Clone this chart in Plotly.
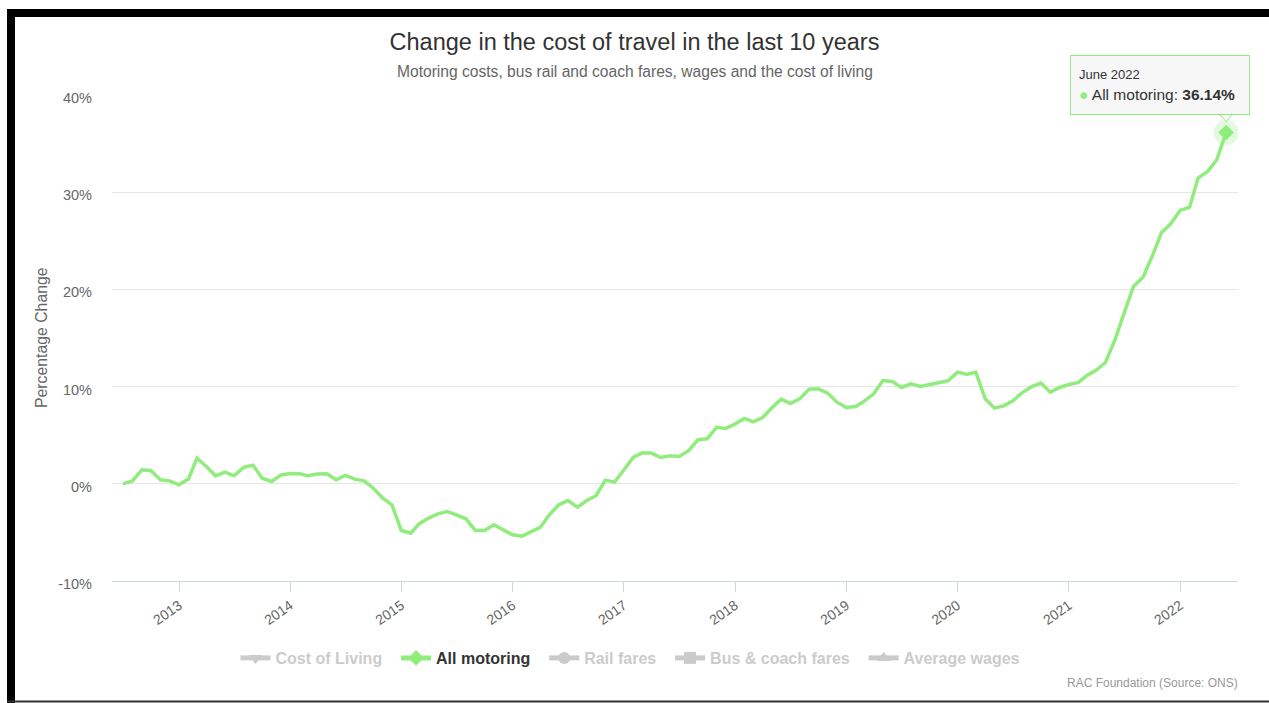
import plotly.graph_objects as go
import pandas as pd

# ---- data ----
dates = pd.date_range("2012-07-01", "2022-06-01", freq="MS")
all_motoring = [
    0.0, 0.3, 1.44, 1.34, 0.41, 0.3,
    -0.1, 0.5, 2.64, 1.78, 0.82, 1.2, 0.82, 1.68, 1.92, 0.58, 0.24, 0.89,
    1.06, 1.03, 0.82, 1.0, 1.03, 0.41, 0.86, 0.48, 0.31, -0.45, -1.47, -2.16,
    -4.8, -5.08, -4.1, -3.53, -3.09, -2.85, -3.19, -3.6, -4.8, -4.8, -4.22, -4.73,
    -5.25, -5.38, -4.97, -4.49, -3.19, -2.16, -1.72, -2.4, -1.72, -1.23, 0.38, 0.17,
    1.44, 2.74, 3.16, 3.16, 2.71, 2.88, 2.81, 3.4, 4.53, 4.63, 5.81, 5.69,
    6.17, 6.72, 6.38, 6.82, 7.79, 8.71, 8.26, 8.74, 9.74, 9.77, 9.33, 8.4,
    7.85, 7.95, 8.5, 9.26, 10.63, 10.53, 9.91, 10.29, 10.01, 10.19, 10.43, 10.6,
    11.49, 11.25, 11.49, 8.74, 7.79, 8.02, 8.54, 9.39, 10.01, 10.36, 9.43, 9.91,
    10.22, 10.43, 11.15, 11.7, 12.48, 14.8, 17.56, 20.3, 21.26, 23.38, 25.86, 26.75,
    28.12, 28.46, 31.45, 32.13, 33.33, 36.14,
]
hidden_series = ["Cost of Living", "Rail fares", "Bus & coach fares", "Average wages"]
hidden_symbols = ["triangle-down", "circle", "square", "triangle-up"]
year_ticks = [f"{y}-01-01" for y in range(2013, 2023)]
year_labels = [str(y) for y in range(2013, 2023)]
y_ticks = [-10, 0, 10, 20, 30, 40]
y_labels = ["-10%", "0%", "10%", "20%", "30%", "40%"]

GREEN = "#90ed7d"
FONT = "Liberation Sans, Arial, sans-serif"
PAD = "\u00a0" * 2


def px_x(p):
    return (p - 112) / 1126


def px_y(p):
    return (581 - p) / 486


fig = go.Figure()


def legend_trace(label, symbol, color, hidden):
    shown = f"<span style='color:#999999'>{label}</span>" if hidden else label
    return go.Scatter(
        x=[None], y=[None], name=shown + PAD, legendgroup=label,
        mode="lines+markers", visible="legendonly" if hidden else True,
        line=dict(color=color, width=2),
        marker=dict(symbol=symbol, color=color, size=9),
    )


fig.add_trace(legend_trace(hidden_series[0], hidden_symbols[0], "#999999", True))
fig.add_trace(legend_trace("All motoring", "diamond", GREEN, False))
for n, s in zip(hidden_series[1:], hidden_symbols[1:]):
    fig.add_trace(legend_trace(n, s, "#999999", True))

fig.add_trace(go.Scatter(
    x=dates, y=all_motoring, name="All motoring", legendgroup="All motoring",
    mode="lines", showlegend=False,
    line=dict(color=GREEN, width=3.5),
    hovertemplate="%{x|%B %Y}<br>All motoring: <b>%{y:.2f}%</b><extra></extra>",
))

# hover halo + diamond on last point
fig.add_trace(go.Scatter(
    x=[dates[-1]], y=[all_motoring[-1]], mode="markers", showlegend=False,
    marker=dict(symbol="circle", size=25, color="rgba(144,237,125,0.25)"),
    hoverinfo="skip",
))
fig.add_trace(go.Scatter(
    x=[dates[-1]], y=[all_motoring[-1]], mode="markers", showlegend=False,
    marker=dict(symbol="diamond", size=12, color=GREEN),
    hoverinfo="skip",
))

# tooltip
fig.add_annotation(
    x=dates[-1], y=all_motoring[-1], xref="x", yref="y",
    text=(f"<span style='font-size:13px'>{dates[-1]:%B %Y}</span><br>"
          f"<span style='color:{GREEN}'>●</span> All motoring: <b>{all_motoring[-1]:.2f}%</b>"),
    showarrow=False, xanchor="center", yanchor="bottom", xshift=-66, yshift=18,
    width=162, height=42,
    align="left", valign="middle", bgcolor="rgba(247,247,247,0.95)", bordercolor=GREEN,
    borderwidth=1, borderpad=8, font=dict(family=FONT, size=15.5, color="#333333"),
)
fig.add_shape(
    type="path", xref="x", yref="y", xsizemode="pixel", ysizemode="pixel",
    xanchor=dates[-1], yanchor=all_motoring[-1],
    path="M -7 18.5 L 0 11 L 7 18.5 Z",
    fillcolor="rgba(247,247,247,1)", line=dict(color=GREEN, width=1), layer="above",
)

# subtitle, y-axis title, credits
fig.add_annotation(
    text="Motoring costs, bus rail and coach fares, wages and the cost of living",
    xref="paper", yref="paper", x=px_x(634.5), y=px_y(72), xanchor="center", yanchor="middle",
    showarrow=False, font=dict(family=FONT, size=15.6, color="#666666"),
)
fig.add_annotation(
    text="Percentage Change", xref="paper", yref="paper", x=px_x(41), y=0.5,
    textangle=-90, showarrow=False, xanchor="center", yanchor="middle",
    font=dict(family=FONT, size=15.8, color="#666666"),
)
fig.add_annotation(
    text="RAC Foundation (Source: ONS)", xref="paper", yref="paper",
    x=px_x(1240), y=px_y(683), xanchor="right", yanchor="middle",
    showarrow=False, font=dict(family=FONT, size=12, color="#999999"),
)

# frame decoration
fig.add_shape(type="rect", xref="paper", yref="paper", x0=px_x(7), x1=px_x(15),
              y0=px_y(710), y1=px_y(9), fillcolor="black", line=dict(width=0), layer="above")
fig.add_shape(type="rect", xref="paper", yref="paper", x0=px_x(7), x1=px_x(1280),
              y0=px_y(17), y1=px_y(9), fillcolor="black", line=dict(width=0), layer="above")
fig.add_shape(type="line", xref="paper", yref="paper", x0=px_x(7), x1=px_x(1280),
              y0=px_y(701.5), y1=px_y(701.5), line=dict(color="#333333", width=2), layer="above")

fig.update_layout(
    width=1269, height=703, autosize=False,
    margin=dict(l=112, r=31, t=95, b=122, autoexpand=False),
    paper_bgcolor="white", plot_bgcolor="white",
    font=dict(family=FONT, color="#666666"),
    title=dict(text="Change in the cost of travel in the last 10 years",
               xref="container", x=0.5, xanchor="center",
               yref="container", y=1 - 42 / 703, yanchor="middle",
               font=dict(family=FONT, size=23.5, color="#333333")),
    showlegend=True,
    legend=dict(orientation="h", x=px_x(634.5), xanchor="center",
                y=px_y(658), yanchor="middle",
                font=dict(family=FONT, size=16, color="#333333", weight=700),
                itemsizing="constant", bgcolor="rgba(0,0,0,0)"),
    hovermode="closest",
    xaxis=dict(type="date", range=["2012-05-26", "2022-07-10"],
               tickvals=year_ticks, ticktext=year_labels, tickangle=-35,
               tickfont=dict(family=FONT, size=14, color="#666666"),
               showgrid=False, zeroline=False, showline=True, linecolor="#ccd6eb", linewidth=1,
               ticks="outside", ticklen=10, tickcolor="#ccd6eb", tickwidth=1),
    yaxis=dict(range=[-10, 40], tickvals=y_ticks, ticktext=y_labels,
               tickfont=dict(family=FONT, size=14.5, color="#666666"),
               showgrid=True, gridcolor="#e6e6e6", gridwidth=1, zeroline=False,
               showline=False, ticks="", ticklabelstandoff=19, ticklabelshift=3),
)

fig.write_html("out.html")
